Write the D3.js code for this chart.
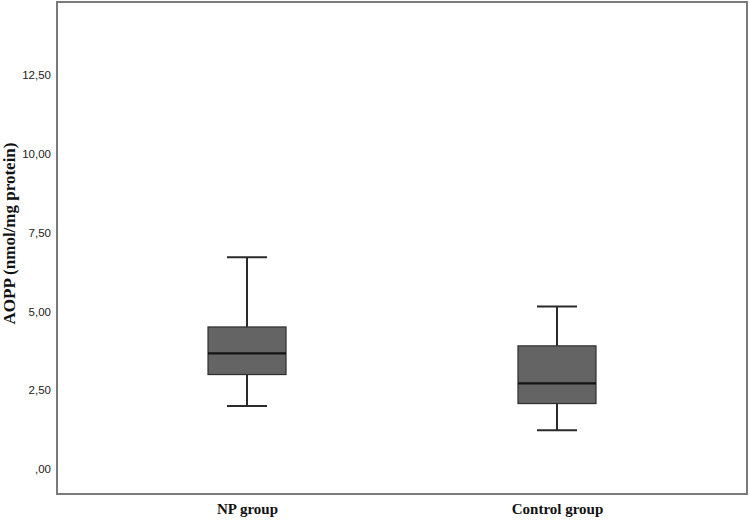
<!DOCTYPE html>
<html><head><meta charset="utf-8">
<script src="https://cdn.jsdelivr.net/npm/d3@7"></script>
<style>html,body{margin:0;padding:0;background:#fff;}</style>
</head><body>
<svg id="chart" width="749" height="521"></svg>
<script>
const categories = ["NP group", "Control group"];
const whiskerLow = [2.00, 1.23];
const q1 = [3.00, 2.08];
const median = [3.67, 2.72];
const q3 = [4.51, 3.91];
const whiskerHigh = [6.72, 5.16];
const tickValues = [0, 2.5, 5, 7.5, 10, 12.5];
const tickLabels = [",00", "2,50", "5,00", "7,50", "10,00", "12,50"];

const svg = d3.select("#chart");
const plot = {left: 57, top: 2, right: 747, bottom: 494};

const y = d3.scaleLinear().domain([-0.79, 14.82]).range([plot.bottom, plot.top]);
const x = d3.scalePoint().domain(categories).range([plot.left, plot.right]).padding(0.613);
const boxW = 78, capW = 40;

// frame
svg.append("rect").attr("x", plot.left).attr("y", plot.top)
  .attr("width", plot.right - plot.left).attr("height", plot.bottom - plot.top)
  .attr("fill", "none").attr("stroke", "#7a7a7a").attr("stroke-width", 2);

// y axis ticks (labels only)
const yAxis = d3.axisLeft(y).tickValues(tickValues)
  .tickFormat((d, i) => tickLabels[i]).tickSize(0).tickPadding(6);
const ga = svg.append("g").attr("transform", `translate(${plot.left},0)`).call(yAxis);
ga.select(".domain").remove();
ga.selectAll("text").attr("font-family", "Liberation Sans, Arial, sans-serif")
  .attr("font-size", 11.5).attr("fill", "#222");

// x axis labels
const xAxis = d3.axisBottom(x).tickSize(0).tickPadding(9);
const gx = svg.append("g").attr("transform", `translate(0,${plot.bottom})`).call(xAxis);
gx.select(".domain").remove();
gx.selectAll("text").attr("font-family", "Liberation Serif, Times New Roman, serif")
  .attr("font-size", 15).attr("font-weight", "bold").attr("fill", "#111");

// y title
svg.append("text")
  .attr("transform", `translate(15,${(126+341)/2}) rotate(-90)`)
  .attr("text-anchor", "middle")
  .attr("font-family", "Liberation Serif, Times New Roman, serif")
  .attr("font-size", 17).attr("font-weight", "bold").attr("fill", "#111")
  .text("AOPP (nmol/mg protein)");

const data = categories.map((c, i) => ({c, lo: whiskerLow[i], q1: q1[i], med: median[i], q3: q3[i], hi: whiskerHigh[i]}));
const g = svg.append("g");
data.forEach(d => {
  const cx = x(d.c);
  // whiskers
  g.append("line").attr("x1", cx).attr("x2", cx).attr("y1", y(d.hi)).attr("y2", y(d.q3))
    .attr("stroke", "#2a2a2a").attr("stroke-width", 2);
  g.append("line").attr("x1", cx).attr("x2", cx).attr("y1", y(d.q1)).attr("y2", y(d.lo))
    .attr("stroke", "#2a2a2a").attr("stroke-width", 2);
  g.append("line").attr("x1", cx - capW/2).attr("x2", cx + capW/2).attr("y1", y(d.hi)).attr("y2", y(d.hi))
    .attr("stroke", "#2a2a2a").attr("stroke-width", 2);
  g.append("line").attr("x1", cx - capW/2).attr("x2", cx + capW/2).attr("y1", y(d.lo)).attr("y2", y(d.lo))
    .attr("stroke", "#2a2a2a").attr("stroke-width", 2);
  // box
  g.append("rect").attr("x", cx - boxW/2).attr("y", y(d.q3))
    .attr("width", boxW).attr("height", y(d.q1) - y(d.q3))
    .attr("fill", "#646464").attr("stroke", "#2e2e2e").attr("stroke-width", 1.2);
  // median
  g.append("line").attr("x1", cx - boxW/2).attr("x2", cx + boxW/2).attr("y1", y(d.med)).attr("y2", y(d.med))
    .attr("stroke", "#141414").attr("stroke-width", 2.2);
});
</script>
</body></html>
